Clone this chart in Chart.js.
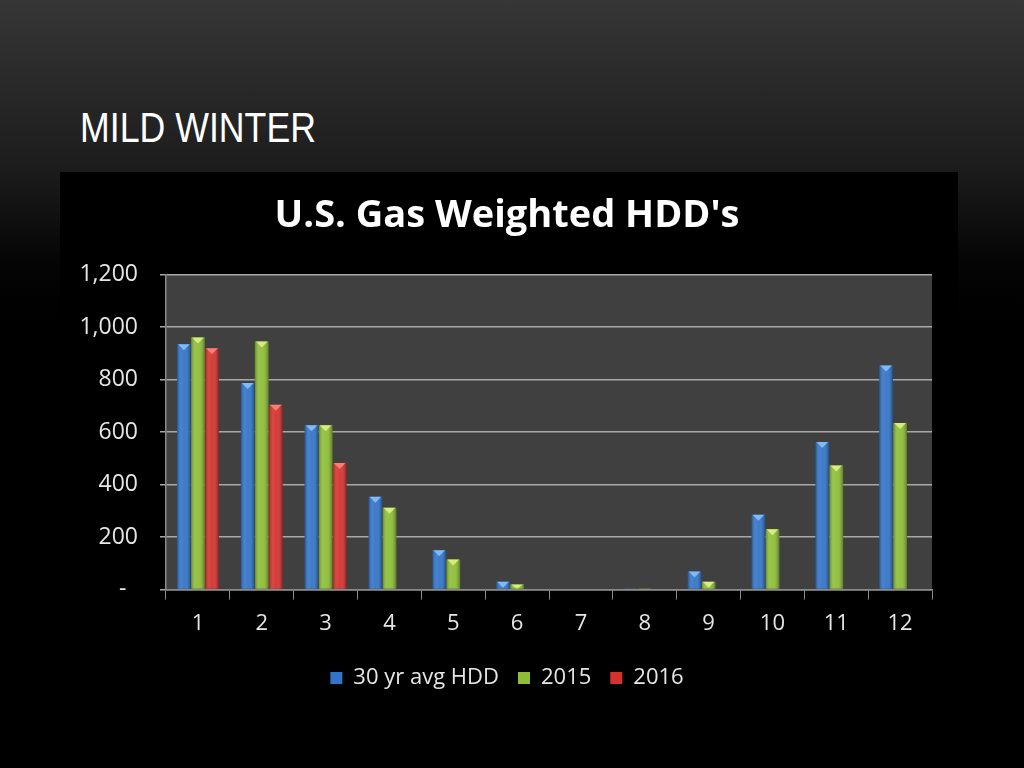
<!DOCTYPE html>
<html>
<head>
<meta charset="utf-8">
<script src="https://cdn.jsdelivr.net/npm/chart.js@4.4.1/dist/chart.umd.min.js"></script>
<style>
  html, body { margin: 0; padding: 0; }
  body {
    width: 1024px; height: 768px; overflow: hidden; position: relative;
    background: linear-gradient(to bottom, #363636 0px, #1c1c1c 170px, #050505 260px, #000 320px, #000 768px);
  }
  #slideTitle {
    position: absolute; left: 80px; top: 104px;
    font-family: "Liberation Sans", Arial, sans-serif; font-size: 42px; line-height: 48px;
    color: #ffffff; transform: scaleX(0.85); transform-origin: left top; letter-spacing: 0px;
  }
  #box {
    position: absolute; left: 60px; top: 172px; width: 898px; height: 536px; background: #000;
  }
</style>
</head>
<body>
<div id="slideTitle">MILD WINTER</div>
<div id="box"><canvas id="c" width="898" height="536"></canvas></div>
<script>
const months = ['1','2','3','4','5','6','7','8','9','10','11','12'];
const avgHdd = [935, 787, 626, 354, 150, 30, 0, 4, 69, 285, 562, 854];
const hdd2015 = [960, 945, 626, 312, 115, 19, 0, 1, 30, 230, 473, 635];
const hdd2016 = [919, 704, 482, null, null, null, null, null, null, null, null, null];
const seriesNames = ['30 yr avg HDD', '2015', '2016'];
const yTicks = [0, 200, 400, 600, 800, 1000, 1200];

const baseColors = ['#3274c8', '#8dbe36', '#d4322e'];
const capColors = ['#8cc4ff', '#e2f58a', '#ff8a80'];
const FONT = '"Open Sans", Lato, sans-serif';

const plotBg = {
  id: 'plotBg',
  beforeDraw(chart) {
    const {ctx, chartArea: a} = chart;
    ctx.save();
    ctx.fillStyle = '#404040';
    ctx.fillRect(a.left, a.top, a.right - a.left, a.bottom - a.top);
    ctx.restore();
  }
};

const barShade = {
  id: 'barShade',
  afterDatasetsDraw(chart) {
    const ctx = chart.ctx;
    chart.data.datasets.forEach((ds, di) => {
      const meta = chart.getDatasetMeta(di);
      meta.data.forEach((el, i) => {
        const v = ds.data[i];
        if (v === null || v === undefined || v <= 0) return;
        const {x, y, base, width} = el.getProps(['x','y','base','width'], true);
        const l = x - width / 2, r = x + width / 2;
        const h = base - y;
        ctx.save();
        const g = ctx.createLinearGradient(l, 0, r, 0);
        g.addColorStop(0, 'rgba(0,0,0,0.30)');
        g.addColorStop(0.3, 'rgba(255,255,255,0.10)');
        g.addColorStop(0.55, 'rgba(255,255,255,0.05)');
        g.addColorStop(1, 'rgba(0,0,0,0.35)');
        ctx.fillStyle = g;
        ctx.fillRect(l, y, width, h);
        if (h > 3) {
          const th = Math.min(6, h);
          ctx.fillStyle = capColors[di];
          ctx.globalAlpha = 0.85;
          ctx.beginPath();
          ctx.moveTo(l + 1, y);
          ctx.lineTo(r - 1, y);
          ctx.lineTo(x, y + th);
          ctx.closePath();
          ctx.fill();
        }
        ctx.restore();
      });
    });
  }
};

new Chart(document.getElementById('c'), {
  type: 'bar',
  data: {
    labels: months,
    datasets: [
      { label: seriesNames[0], data: avgHdd, backgroundColor: baseColors[0] },
      { label: seriesNames[1], data: hdd2015, backgroundColor: baseColors[1] },
      { label: seriesNames[2], data: hdd2016, backgroundColor: baseColors[2] }
    ]
  },
  options: {
    responsive: false,
    animation: false,
    devicePixelRatio: 1,
    datasets: { bar: { categoryPercentage: 0.66, barPercentage: 0.98 } },
    layout: { padding: { left: 0, right: 4, top: 0, bottom: 9 } },
    plugins: {
      title: {
        display: true,
        text: "U.S. Gas Weighted HDD's",
        color: '#ffffff',
        font: { family: FONT, size: 38, weight: 'bold' },
        padding: { top: 21, bottom: 36 }
      },
      legend: {
        position: 'bottom',
        labels: {
          color: '#e6e6e6',
          font: { family: FONT, size: 22 },
          boxWidth: 12, boxHeight: 12, padding: 19
        }
      },
      tooltip: { enabled: false }
    },
    scales: {
      x: {
        grid: { display: true, drawOnChartArea: false, drawTicks: true, tickLength: 10, color: '#8a8a8a', lineWidth: 1, offset: true },
        border: { display: true, color: '#8a8a8a', width: 1.5 },
        ticks: { color: '#e6e6e6', font: { family: FONT, size: 22 }, padding: 11 }
      },
      y: {
        min: 0, max: 1200,
        afterBuildTicks(scale) { scale.ticks = yTicks.map(v => ({ value: v })); },
        afterFit(scale) { scale.width = 106; },
        grid: { color: '#a8a8a8', lineWidth: 1.5, tickLength: 6, drawTicks: true },
        border: { display: true, color: '#8a8a8a', width: 1.5 },
        ticks: {
          color: '#e6e6e6', font: { family: FONT, size: 23 }, padding: 22,
          callback: v => v === 0 ? '-\u2002' : v.toLocaleString('en-US')
        }
      },
      ySpacer: {
        position: 'right',
        display: true,
        afterFit(scale) { scale.width = 22; },
        grid: { display: false, drawTicks: false },
        border: { display: false },
        ticks: { display: false }
      }
    }
  },
  plugins: [plotBg, barShade]
});
</script>
</body>
</html>
